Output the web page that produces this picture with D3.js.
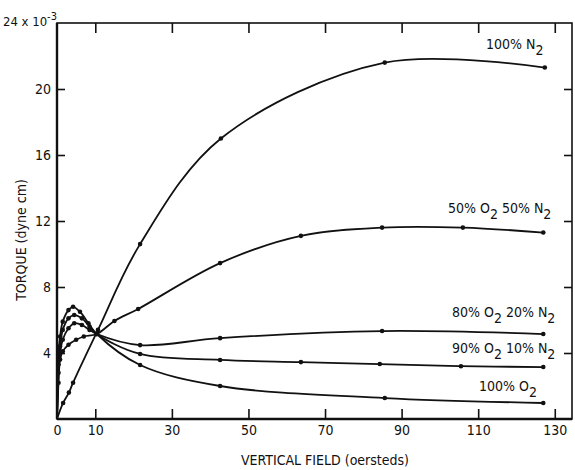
<!DOCTYPE html>
<html>
<head>
<meta charset="utf-8">
<script src="https://cdn.jsdelivr.net/npm/d3@7"></script>
<style>
  body { margin: 0; background: #fff; }
  svg text { font-family: "Liberation Sans Narrow", "DejaVu Sans Condensed", sans-serif; fill: #111; }
  .tick line { stroke: #111; stroke-width: 1.6; }
  .tick text { font-size: 14px; }
</style>
</head>
<body>
<script>
// torque vs vertical field
var xTicks = [0, 10, 30, 50, 70, 90, 110, 130];
var yTicks = [4, 8, 12, 16, 20];

var n2 = [[0,0],[1.6,0.97],[3.1,1.6],[4.2,2.2],[10.7,5.4],[21.7,10.6],[42.8,17.0],[85.6,21.6],[127.4,21.3]];
var o2n2_50 = [[0,0],[0.4,2.2],[0.8,3.6],[1.5,4.1],[3,4.5],[5,4.8],[7,5.0],[10.4,5.15],[15,5.94],[21.2,6.67],[42.6,9.45],[63.7,11.1],[84.9,11.6],[106,11.6],[127,11.3]];
var o2n2_80 = [[0,0],[0.4,2.8],[0.8,4.0],[1.5,4.8],[3,5.5],[4.5,5.8],[6.5,5.7],[8.5,5.4],[10.4,5.15],[21.7,4.48],[42.6,4.9],[84.9,5.33],[127,5.15]];
var o2n2_90 = [[0,0],[0.4,3.3],[0.8,4.4],[1.5,5.4],[3,6.1],[4.5,6.3],[6.5,6.1],[8.5,5.6],[10.4,5.15],[21.7,3.94],[42.6,3.58],[63.7,3.45],[84.3,3.33],[105.5,3.2],[127,3.15]];
var o2 = [[0,0],[0.4,4.0],[0.8,5.0],[1.5,5.9],[3,6.6],[4.2,6.8],[6,6.5],[8.2,5.8],[10.4,5.15],[21.7,3.27],[42.6,2.0],[85.6,1.27],[127,0.97]];

var seriesData = [n2, o2n2_50, o2n2_80, o2n2_90, o2];
// label pieces: [text, subscript?]
var seriesLabels = [
  [["100% N", 0], ["2", 1]],
  [["50% O", 0], ["2", 1], [" 50% N", 0], ["2", 1]],
  [["80% O", 0], ["2", 1], [" 20% N", 0], ["2", 1]],
  [["90% O", 0], ["2", 1], [" 10% N", 0], ["2", 1]],
  [["100% O", 0], ["2", 1]]
];

drawChart();

function drawChart(){
  var width = 575, height = 470;
  var pLeft = 57, pRight = 572, pTop = 23, pBottom = 419;

  var svg = d3.select("body").append("svg")
    .attr("width", width)
    .attr("height", height);

  var x = d3.scaleLinear().domain([0, 134.5]).range([pLeft, pRight]);
  var y = d3.scaleLinear().domain([0, 24]).range([pBottom, pTop]);

  // frame
  svg.append("rect")
    .attr("x", pLeft).attr("y", pTop)
    .attr("width", pRight - pLeft).attr("height", pBottom - pTop)
    .attr("fill", "none").attr("stroke", "#111").attr("stroke-width", 1.6);
  svg.append("line").attr("x1", pLeft).attr("x2", pLeft).attr("y1", pTop).attr("y2", pBottom)
    .attr("stroke", "#111").attr("stroke-width", 2.4);
  svg.append("line").attr("x1", pLeft).attr("x2", pRight).attr("y1", pBottom).attr("y2", pBottom)
    .attr("stroke", "#111").attr("stroke-width", 2.4);

  var xAxis = svg.append("g")
    .attr("transform", "translate(0," + pBottom + ")")
    .call(d3.axisBottom(x).tickValues(xTicks).tickSizeInner(-10).tickSizeOuter(0).tickPadding(6).tickFormat(d3.format("d")));
  xAxis.select(".domain").remove();
  xAxis.selectAll(".tick").filter(function(d){ return d === 0; }).select("line").remove();

  var xTop = svg.append("g")
    .attr("transform", "translate(0," + pTop + ")")
    .call(d3.axisTop(x).tickValues(xTicks.slice(1)).tickSizeInner(-10).tickSizeOuter(0).tickFormat(""));
  xTop.select(".domain").remove();

  var yAxis = svg.append("g")
    .attr("transform", "translate(" + pLeft + ",0)")
    .call(d3.axisLeft(y).tickValues(yTicks).tickSizeInner(-8).tickSizeOuter(0).tickPadding(6));
  yAxis.select(".domain").remove();

  var yRight = svg.append("g")
    .attr("transform", "translate(" + pRight + ",0)")
    .call(d3.axisRight(y).tickValues(yTicks).tickSizeInner(-8).tickSizeOuter(0).tickFormat(""));
  yRight.select(".domain").remove();

  // top value with exponent
  var topLab = svg.append("text")
    .attr("x", 3).attr("y", y(24) + 3)
    .style("font-size", "13px");
  topLab.append("tspan").text("24 x 10");
  topLab.append("tspan").attr("dy", -6).style("font-size", "11px").text("-3");

  // axis titles
  svg.append("text")
    .attr("x", 325).attr("y", 465)
    .attr("text-anchor", "middle")
    .style("font-size", "14px")
    .text("VERTICAL FIELD (oersteds)");

  svg.append("text")
    .attr("transform", "translate(26,240) rotate(-90)")
    .attr("text-anchor", "middle")
    .style("font-size", "14px")
    .text("TORQUE (dyne cm)");

  var line = d3.line()
    .x(function(d){ return x(d[0]); })
    .y(function(d){ return y(d[1]); })
    .curve(d3.curveCatmullRom.alpha(0.5));

  svg.selectAll(".curve")
    .data(seriesData)
    .enter()
    .append("path")
    .attr("class", "curve")
    .attr("d", line)
    .attr("fill", "none")
    .attr("stroke", "#111")
    .attr("stroke-width", 1.8);

  seriesData.forEach(function(s){
    svg.selectAll(null)
      .data(s.slice(1))
      .enter()
      .append("circle")
      .attr("cx", function(d){ return x(d[0]); })
      .attr("cy", function(d){ return y(d[1]); })
      .attr("r", 2.3)
      .attr("fill", "#111");
  });

  // curve labels
  var labelPos = [[486, 49], [448, 213], [452, 317], [452, 353], [479, 391]];
  seriesLabels.forEach(function(parts, i){
    var t = svg.append("text")
      .attr("x", labelPos[i][0]).attr("y", labelPos[i][1])
      .style("font-size", "14px");
    var down = false;
    parts.forEach(function(p){
      var sp = t.append("tspan").text(p[0]);
      if (p[1] && !down) { sp.attr("dy", 6); down = true; }
      else if (!p[1] && down) { sp.attr("dy", -6); down = false; }
    });
  });
}
</script>
</body>
</html>
